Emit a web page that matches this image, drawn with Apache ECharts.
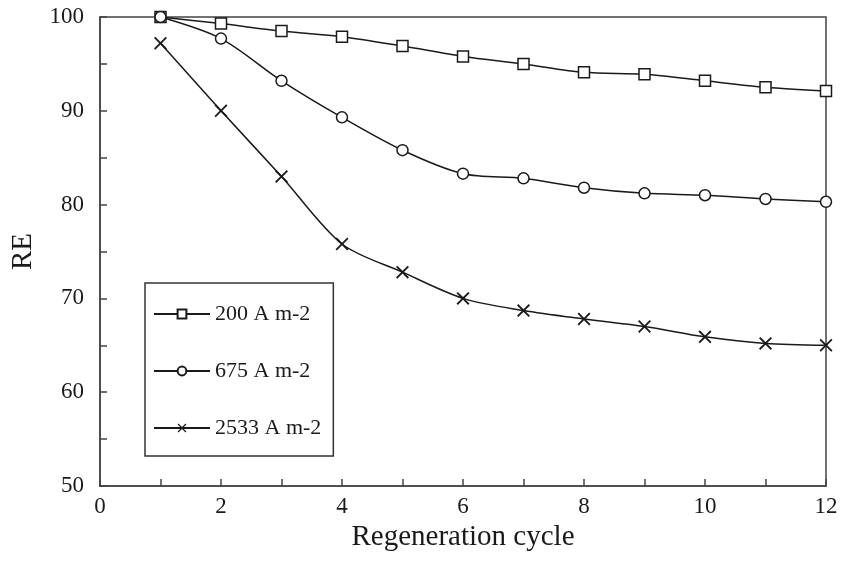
<!DOCTYPE html>
<html>
<head>
<meta charset="utf-8">
<script src="https://cdn.jsdelivr.net/npm/echarts@6/dist/echarts.min.js"></script>
<style>
  html, body { margin: 0; padding: 0; background: #fff; }
  #chart { width: 845px; height: 561px; }
</style>
</head>
<body>
<div id="chart"></div>
<script>
// Data
const cycles = [1, 2, 3, 4, 5, 6, 7, 8, 9, 10, 11, 12];
const re200 = [100, 99.3, 98.5, 97.9, 96.9, 95.8, 95.0, 94.1, 93.9, 93.2, 92.5, 92.1];
const re675 = [100, 97.7, 93.2, 89.3, 85.8, 83.3, 82.8, 81.8, 81.2, 81.0, 80.6, 80.3];
const re2533 = [97.2, 90.0, 83.0, 75.8, 72.8, 70.0, 68.7, 67.8, 67.0, 65.9, 65.2, 65.0];
const seriesNames = ['200 A m-2', '675 A m-2', '2533 A m-2'];

const chart = echarts.init(document.getElementById('chart'));
const ink = '#1a1a1a';
const font = 'Liberation Serif';
const crossPath = 'path://M0,1L1,0L5,4L9,0L10,1L6,5L10,9L9,10L5,6L1,10L0,9L4,5Z';

function pairs(ys) {
    return cycles.map((c, i) => [c, ys[i]]);
}

function makeSeries(name, ys, symbol, size, hollow) {
    return {
        name: name,
        type: 'line',
        data: pairs(ys),
        smooth: 0.3,
        symbol: symbol,
        symbolSize: size,
        showAllSymbol: true,
        lineStyle: { color: ink, width: 1.5 },
        itemStyle: hollow
            ? { color: '#fff', borderColor: ink, borderWidth: 1.5 }
            : { color: ink, borderWidth: 0 },
        emphasis: { disabled: true }
    };
}

const option = {
    backgroundColor: '#fff',
    animation: false,
    grid: {
        left: 100, right: 19, top: 17, bottom: 75,
        show: true, borderColor: '#444', borderWidth: 1.5
    },
    legend: {
        orient: 'vertical',
        left: 145, top: 283,
        padding: [20, 12, 17, 8],
        itemGap: 35,
        itemWidth: 56,
        itemHeight: 11,
        borderColor: '#333',
        borderWidth: 1.5,
        data: seriesNames,
        textStyle: { fontFamily: font, fontSize: 22, color: ink }
    },
    xAxis: {
        type: 'value',
        min: 0, max: 12, interval: 1,
        name: 'Regeneration cycle',
        nameLocation: 'middle',
        nameGap: 35,
        nameTextStyle: { fontFamily: font, fontSize: 29, color: ink },
        axisLine: { lineStyle: { color: '#444', width: 1.5 } },
        axisTick: { inside: true, length: 7, lineStyle: { color: '#444', width: 1.5 } },
        axisLabel: {
            fontFamily: font, fontSize: 23, color: ink, margin: 9,
            formatter: v => (v % 2 === 0 ? String(v) : '')
        },
        splitLine: { show: false }
    },
    yAxis: {
        type: 'value',
        min: 50, max: 100, interval: 5,
        name: 'RE',
        nameLocation: 'middle',
        nameGap: 62,
        nameTextStyle: { fontFamily: font, fontSize: 29, color: ink },
        axisLine: { show: true, lineStyle: { color: '#444', width: 1.5 } },
        axisTick: { show: true, inside: true, length: 7, lineStyle: { color: '#444', width: 1.5 } },
        axisLabel: {
            fontFamily: font, fontSize: 23, color: ink, margin: 16,
            formatter: v => (v % 10 === 0 ? String(v) : '')
        },
        splitLine: { show: false }
    },
    series: [
        makeSeries(seriesNames[0], re200, 'rect', 11, true),
        makeSeries(seriesNames[1], re675, 'circle', 11, true),
        makeSeries(seriesNames[2], re2533, crossPath, 13, false)
    ]
};

chart.setOption(option);
window.addEventListener('resize', () => chart.resize());
</script>
</body>
</html>
